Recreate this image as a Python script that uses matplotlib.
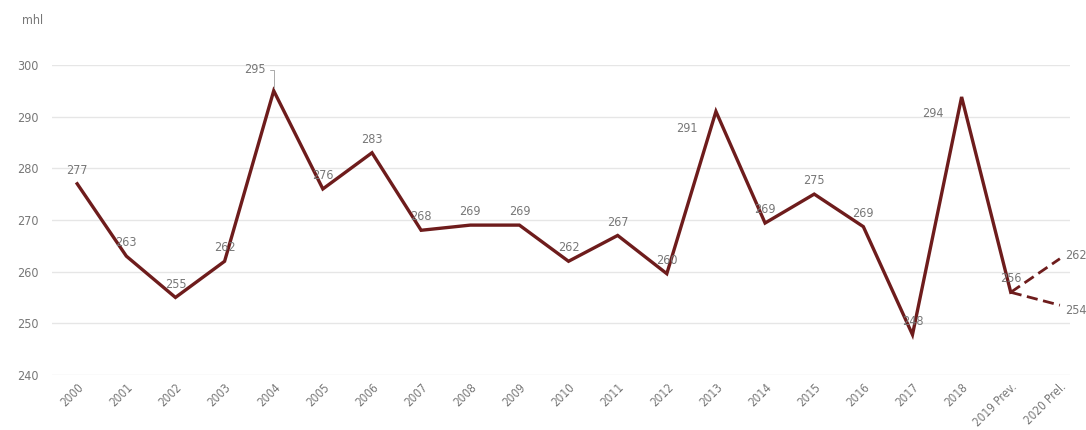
import matplotlib.pyplot as plt

plt.rcParams['font.family'] = ['DejaVu Sans']
plt.rcParams['font.stretch'] = 'condensed'

years = ["2000", "2001", "2002", "2003", "2004", "2005", "2006", "2007", "2008", "2009",
         "2010", "2011", "2012", "2013", "2014", "2015", "2016", "2017", "2018",
         "2019 Prev.", "2020 Prel."]
values = [277, 263, 255, 262, 295, 276, 283, 268, 269, 269,
          262, 267, 259.6, 291, 269.4, 275, 268.7, 247.8, 293.8, 256]
labels = ["277", "263", "255", "262", "295", "276", "283", "268", "269", "269",
          "262", "267", "260", "291", "269", "275", "269", "248", "294", "256"]
forecast_high = 262.5
forecast_low = 253.5
yticks = [240, 250, 260, 270, 280, 290, 300]

line_color = '#6e1c1c'
text_color = '#777777'

fig = plt.figure(figsize=(10.86, 4.3), dpi=100)
ax = fig.add_axes([0.048, 0.128, 0.937, 0.721])

x = list(range(len(values)))
for t in yticks:
    ax.axhline(t, color='#e6e6e6', lw=1, zorder=0)

ax.plot(x, values, color=line_color, lw=2.4, solid_joinstyle='miter', zorder=3)
last = len(values) - 1
ax.plot([last, last + 1], [values[-1], forecast_high], color=line_color, lw=2, ls=(0, (4, 2)), zorder=3)
ax.plot([last, last + 1], [values[-1], forecast_low], color=line_color, lw=2, ls=(0, (4, 2)), zorder=3)

# labels just above the point
side = {4: (-6, 15), 13: (-13, -12.5), 18: (-13, -12)}
for i, (v, lab) in enumerate(zip(values, labels)):
    if i in side:
        continue
    ax.annotate(lab, (i, v), xytext=(0, 5), textcoords='offset points',
                ha='center', va='bottom', fontsize=9, color=text_color, zorder=4)

# peaks: label on the left with a short leader
for i, (dx, dy) in side.items():
    ax.annotate(labels[i], (i, values[i]), xytext=(dx, dy), textcoords='offset points',
                ha='right', va='center', fontsize=9, color=text_color, zorder=4)
    if i == 4:
        ax.annotate("", (i, values[i]), xytext=(-5, 15), textcoords='offset points',
                    arrowprops=dict(arrowstyle='-', color='#aaaaaa', lw=0.7,
                                    connectionstyle='angle,angleA=0,angleB=90,rad=0'))

ax.annotate(str(round(forecast_high)), (last + 1, forecast_high), xytext=(4, 2), textcoords='offset points',
            ha='left', va='center', fontsize=9, color=text_color)
ax.annotate(str(round(forecast_low)), (last + 1, forecast_low), xytext=(4, -4), textcoords='offset points',
            ha='left', va='center', fontsize=9, color=text_color)

ax.set_xlim(-0.51, 20.2)
ax.set_ylim(240, 300)
ax.set_yticks(yticks)
ax.set_yticklabels([str(t) for t in yticks], fontsize=9, color=text_color)
ax.set_xticks(range(len(years)))
ax.set_xticklabels(years, rotation=45, ha='right', rotation_mode='anchor', fontsize=8.5, color=text_color)
ax.tick_params(length=0, pad=4)
ax.tick_params(axis='y', pad=10)
for s in ax.spines.values():
    s.set_visible(False)

fig.text(0.02, 0.945, "mhl", fontsize=9, color=text_color)

fig.savefig("out.png", dpi=100)
